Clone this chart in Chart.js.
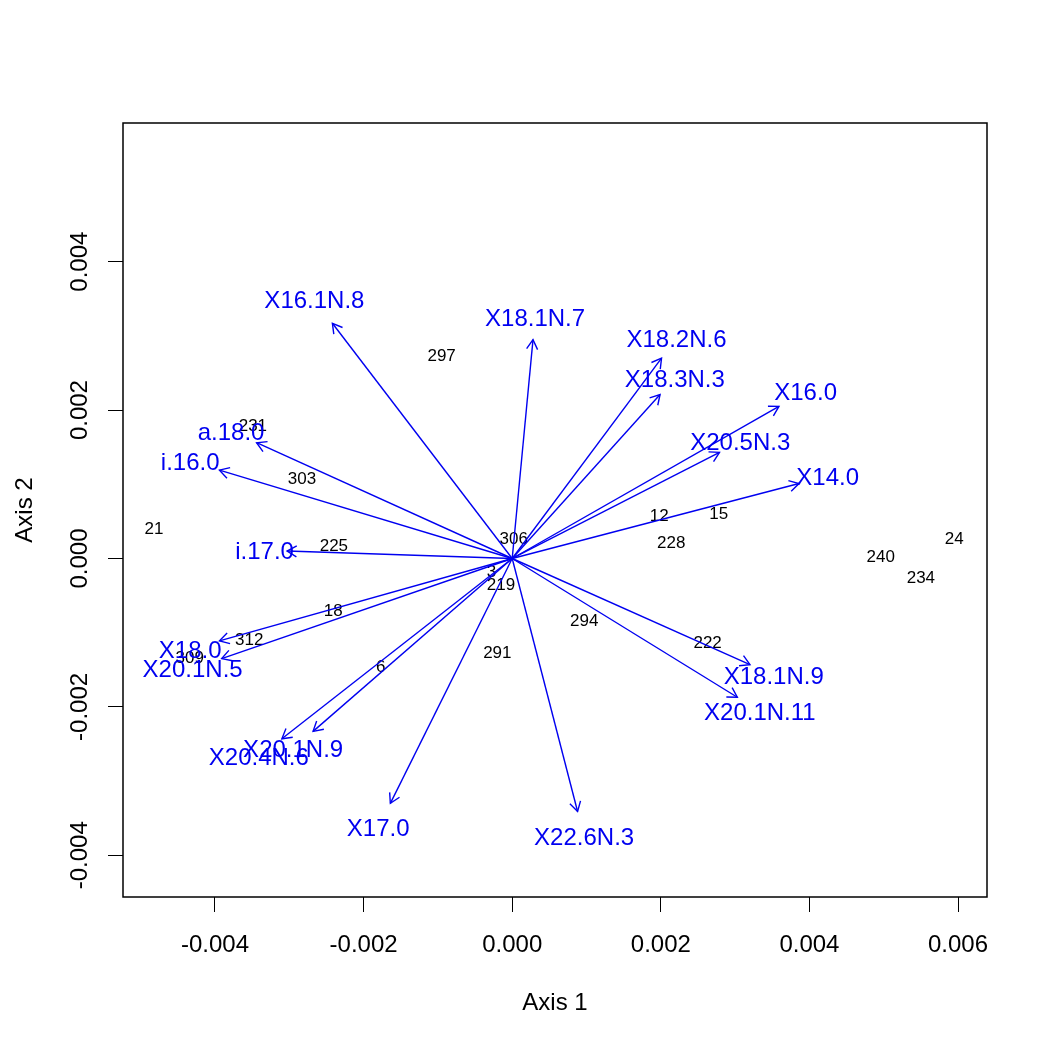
<!DOCTYPE html>
<html>
<head>
<meta charset="utf-8">
<script src="https://cdn.jsdelivr.net/npm/chart.js@4.4.1/dist/chart.umd.min.js"></script>
<style>
  html, body { margin: 0; padding: 0; background: #fff; }
  canvas { display: block; }
</style>
</head>
<body>
<canvas id="chart" width="1050" height="1050"></canvas>
<script>
// site scores (black labels)
const siteNames = ['231', '303', '21', '225', '18', '312', '309', '6', '306', '3', '219',
  '294', '291', '297', '12', '15', '228', '24', '240', '234', '222'];
const siteAxis1 = [-0.00349, -0.00283, -0.00482, -0.00240, -0.00241, -0.00354, -0.00434, -0.00177,
  0.00002, -0.00028, -0.00015, 0.00097, -0.00020, -0.00095, 0.00198, 0.00278, 0.00214, 0.00595,
  0.00496, 0.00550, 0.00263];
const siteAxis2 = [0.00180, 0.00109, 0.00041, 0.00018, -0.00069, -0.00108, -0.00132, -0.00144,
  0.00028, -0.00016, -0.00034, -0.00083, -0.00126, 0.00274, 0.00059, 0.00061, 0.00022, 0.00028,
  0.00003, -0.00025, -0.00112];

// variable loadings (blue arrows)
const varNames = ['X16.1N.8', 'X18.1N.7', 'X18.2N.6', 'X18.3N.3', 'X16.0', 'X20.5N.3', 'X14.0',
  'a.18.0', 'i.16.0', 'i.17.0', 'X18.0', 'X20.1N.5', 'X20.1N.9', 'X20.4N.6', 'X17.0', 'X22.6N.3',
  'X18.1N.9', 'X20.1N.11'];
const varAxis1 = [-0.00242, 0.00028, 0.00201, 0.00199, 0.00359, 0.00279, 0.00386, -0.00344,
  -0.00394, -0.00303, -0.00394, -0.00391, -0.00268, -0.00310, -0.00164, 0.00088, 0.00320, 0.00303];
const varAxis2 = [0.00317, 0.00295, 0.00270, 0.00221, 0.00205, 0.00143, 0.00101, 0.00156,
  0.00119, 0.00010, -0.00111, -0.00135, -0.00233, -0.00243, -0.00330, -0.00341, -0.00143, -0.00187];

const xTicks = [-0.004, -0.002, 0, 0.002, 0.004, 0.006];
const yTicks = [-0.004, -0.002, 0, 0.002, 0.004];
const xLimits = [-0.005238, 0.00639];
const yLimits = [-0.004562, 0.005869];
const labelStretch = 1.1;

const FONT = "'Liberation Sans', Arial, Helvetica, sans-serif";
const BLUE = '#0000f0';

const biplotPlugin = {
  id: 'biplot',
  beforeDatasetsDraw(chart) {
    const ctx = chart.ctx;
    const pts = chart.getDatasetMeta(0).data;
    ctx.save();
    ctx.font = '17px ' + FONT;
    ctx.fillStyle = '#000';
    ctx.textAlign = 'center';
    ctx.textBaseline = 'middle';
    siteNames.forEach((name, i) => {
      ctx.fillText(name, pts[i].x, pts[i].y + 1.5);
    });
    ctx.restore();
  },
  afterDatasetsDraw(chart) {
    const { ctx, scales: { x, y } } = chart;
    ctx.save();
    ctx.strokeStyle = BLUE;
    ctx.lineWidth = 1.4;
    varNames.forEach((name, i) => {
      const pts = chart.getDatasetMeta(i + 1).data;
      const a = Math.atan2(pts[1].y - pts[0].y, pts[1].x - pts[0].x);
      const len = 11, wing = Math.PI / 6;
      ctx.beginPath();
      ctx.moveTo(pts[1].x - len * Math.cos(a - wing), pts[1].y - len * Math.sin(a - wing));
      ctx.lineTo(pts[1].x, pts[1].y);
      ctx.lineTo(pts[1].x - len * Math.cos(a + wing), pts[1].y - len * Math.sin(a + wing));
      ctx.stroke();
    });
    ctx.font = '24px ' + FONT;
    ctx.fillStyle = BLUE;
    ctx.textAlign = 'center';
    ctx.textBaseline = 'middle';
    varNames.forEach((name, i) => {
      ctx.fillText(name, x.getPixelForValue(varAxis1[i] * labelStretch),
        y.getPixelForValue(varAxis2[i] * labelStretch) + 2);
    });
    ctx.restore();
  },
  afterDraw(chart) {
    const { ctx, chartArea: area, scales: { y } } = chart;
    ctx.save();
    ctx.strokeStyle = '#000';
    ctx.lineWidth = 1.5;
    ctx.strokeRect(area.left, area.top, area.right - area.left, area.bottom - area.top);
    // y tick labels, rotated like R's default
    ctx.font = '24px ' + FONT;
    ctx.fillStyle = '#000';
    ctx.textAlign = 'center';
    ctx.textBaseline = 'middle';
    yTicks.forEach(v => {
      ctx.save();
      ctx.translate(80, y.getPixelForValue(v));
      ctx.rotate(-Math.PI / 2);
      ctx.fillText(v.toFixed(3), 0, 0);
      ctx.restore();
    });
    ctx.restore();
  }
};

const datasets = [{
  label: 'sites',
  data: siteNames.map((n, i) => ({ x: siteAxis1[i], y: siteAxis2[i] })),
  pointRadius: 0,
  showLine: false
}].concat(varNames.map((name, i) => ({
  label: name,
  data: [{ x: 0, y: 0 }, { x: varAxis1[i], y: varAxis2[i] }],
  showLine: true,
  borderColor: BLUE,
  borderWidth: 1.4,
  pointRadius: 0
})));

const tickGrid = { drawOnChartArea: false, drawTicks: true, tickLength: 15, color: '#000', lineWidth: 1 };

new Chart(document.getElementById('chart').getContext('2d'), {
  type: 'scatter',
  data: { datasets },
  options: {
    responsive: false,
    animation: false,
    devicePixelRatio: 1,
    layout: { padding: { top: 123, right: 63, bottom: 0, left: 0 } },
    plugins: { legend: { display: false }, tooltip: { enabled: false } },
    scales: {
      x: {
        type: 'linear',
        min: xLimits[0],
        max: xLimits[1],
        afterBuildTicks: axis => { axis.ticks = xTicks.map(v => ({ value: v })); },
        afterFit: axis => { axis.height = 153; },
        grid: tickGrid,
        border: { display: false },
        ticks: {
          color: '#000',
          font: { family: FONT, size: 24 },
          padding: 19,
          maxRotation: 0,
          autoSkip: false,
          callback: v => v.toFixed(3)
        },
        title: {
          display: true, text: 'Axis 1', color: '#000',
          font: { family: FONT, size: 24 }, padding: { top: 0, bottom: 32 }
        }
      },
      y: {
        type: 'linear',
        min: yLimits[0],
        max: yLimits[1],
        afterBuildTicks: axis => { axis.ticks = yTicks.map(v => ({ value: v })); },
        afterFit: axis => { axis.width = 123; },
        grid: tickGrid,
        border: { display: false },
        ticks: { display: false },
        title: {
          display: true, text: 'Axis 2', color: '#000',
          font: { family: FONT, size: 24 }, padding: { top: 11, bottom: 0 }
        }
      }
    }
  },
  plugins: [biplotPlugin]
});
</script>
</body>
</html>
